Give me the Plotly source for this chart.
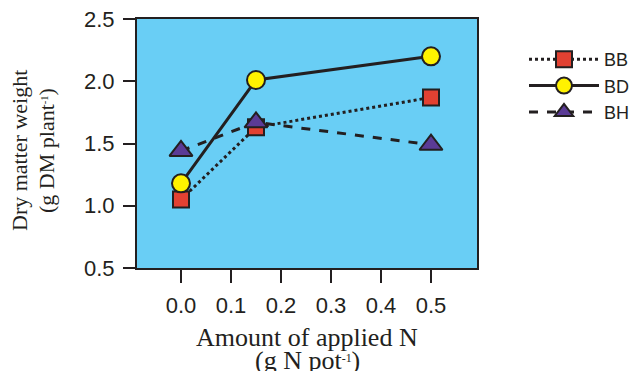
import plotly.graph_objects as go

x_vals = [0.0, 0.15, 0.5]
bb = [1.05, 1.63, 1.87]
bd = [1.18, 2.01, 2.20]
bh = [1.44, 1.67, 1.49]
x_ticks = [0.0, 0.1, 0.2, 0.3, 0.4, 0.5]
y_ticks = [0.5, 1.0, 1.5, 2.0, 2.5]

ink = "#231F20"
serif = "Liberation Serif, Times New Roman, serif"
fig = go.Figure()
fig.add_trace(go.Scatter(x=x_vals, y=bb, name="BB", mode="lines+markers",
    line=dict(color=ink, width=3, dash="dot"),
    marker=dict(symbol="square", size=16, color="#E24132", line=dict(color=ink, width=2))))
fig.add_trace(go.Scatter(x=x_vals, y=bd, name="BD", mode="lines+markers",
    line=dict(color=ink, width=3),
    marker=dict(symbol="circle", size=18, color="#FFF200", line=dict(color=ink, width=2))))
fig.add_trace(go.Scatter(x=x_vals, y=bh, name="BH", mode="lines+markers",
    line=dict(color=ink, width=3, dash="dash"),
    marker=dict(symbol="triangle-up", size=20, color="#5B3B96", line=dict(color=ink, width=2))))

W, H = 631, 371
L, R, T, B = 137, 154, 19, 103
pw, ph = W - L - R, H - T - B

def px_x(p):
    return (p - L) / pw

def px_y(p):
    return (H - B - p) / ph

fig.update_layout(
    width=W, height=H,
    margin=dict(l=L, r=R, t=T, b=B, autoexpand=False),
    paper_bgcolor="white", plot_bgcolor="#69CEF5",
    font=dict(family="Liberation Sans, Arial", size=22, color=ink),
    showlegend=True,
    legend=dict(x=px_x(524), y=px_y(41), xanchor="left", yanchor="top",
                font=dict(size=18, color=ink), tracegroupgap=0,
                itemwidth=70, bgcolor="rgba(0,0,0,0)"),
    xaxis=dict(range=[-0.088, 0.592], tickvals=x_ticks,
               ticktext=[f"{v:.1f}" for v in x_ticks],
               ticks="outside", ticklen=13, tickwidth=2, tickcolor=ink,
               showline=True, linecolor=ink, linewidth=2, mirror=True,
               showgrid=False, zeroline=False, ticklabelstandoff=4),
    yaxis=dict(range=[0.5, 2.5], tickvals=y_ticks,
               ticktext=[f"{v:.1f}" for v in y_ticks],
               ticks="outside", ticklen=12, tickwidth=2, tickcolor=ink,
               showline=True, linecolor=ink, linewidth=2, mirror=True,
               showgrid=False, zeroline=False, ticklabelstandoff=4),
    annotations=[
        dict(text="Amount of applied N", x=0.5, y=px_y(337),
             xref="paper", yref="paper", xanchor="center", yanchor="middle",
             showarrow=False, font=dict(family=serif, size=26, color=ink)),
        dict(text="(g N pot<span style='font-size:17px'><sup>-1</sup></span>)", x=0.5, y=px_y(360),
             xref="paper", yref="paper", xanchor="center", yanchor="middle",
             showarrow=False, font=dict(family=serif, size=26, color=ink)),
        dict(text="Dry matter weight", x=px_x(20), y=px_y(151),
             xref="paper", yref="paper", xanchor="center", yanchor="middle", textangle=-90,
             showarrow=False, font=dict(family=serif, size=22, color=ink)),
        dict(text="(g DM plant<span style='font-size:15px'><sup>-1</sup></span>)", x=px_x(47), y=px_y(151),
             xref="paper", yref="paper", xanchor="center", yanchor="middle", textangle=-90,
             showarrow=False, font=dict(family=serif, size=22, color=ink)),
    ],
)
fig.write_html("out.html", config={"displayModeBar": False},
               post_script="document.body.style.margin='0';document.body.style.overflow='hidden';")
